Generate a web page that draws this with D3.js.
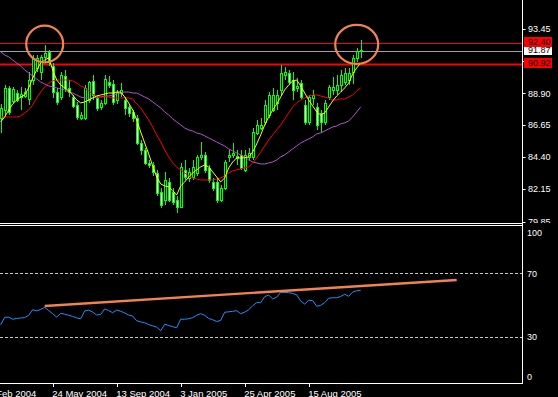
<!DOCTYPE html>
<html>
<head>
<meta charset="utf-8">
<script src="https://cdn.jsdelivr.net/npm/d3@7"></script>
<style>
  html, body { margin: 0; padding: 0; background: #000; }
  svg { display: block; }
</style>
</head>
<body>
<script>
// weekly bars, 23 Feb 2004 .. 14 Nov 2005
const firstWeek = new Date(2004, 1, 23);
const barCount = 91;

const open = [87.17,87.73,89.29,88.37,88.93,88.65,88.72,88.51,89.85,90.70,
  90.42,91.48,91.83,90.84,89.00,88.65,90.13,89.29,88.65,88.09,
  87.17,87.17,88.44,89.78,88.58,87.95,88.23,89.71,89.57,88.44,
  88.93,88.44,87.95,87.59,87.17,85.40,84.91,83.99,83.85,83.29,
  81.94,81.38,82.65,81.94,81.38,80.89,83.50,82.93,83.00,83.29,
  84.42,84.56,83.64,82.65,82.65,81.38,82.23,84.42,84.56,84.49,
  84.56,83.50,84.42,84.42,86.11,86.46,86.89,87.38,87.73,88.23,
  89.15,90.21,90.35,89.85,89.29,89.64,88.09,86.89,88.58,87.95,
  87.52,86.89,88.65,89.15,89.15,89.50,89.71,89.85,90.42,91.41,
  91.97];
const high = [88.16,89.50,89.43,89.36,89.15,89.36,89.29,90.42,91.62,91.62,
  91.62,92.32,91.97,91.05,89.29,90.42,90.56,89.85,88.79,88.30,
  87.59,89.50,89.78,90.21,88.72,88.44,90.21,90.13,89.85,89.15,
  89.64,88.65,88.09,87.73,87.38,85.62,85.05,84.20,84.06,83.50,
  82.23,83.36,82.93,82.23,81.66,83.99,84.20,83.64,84.20,84.56,
  85.47,84.77,83.85,82.93,82.93,82.44,84.20,84.91,85.40,84.91,
  84.91,84.91,85.05,86.46,87.03,87.17,88.44,89.00,89.29,89.15,
  90.91,90.77,90.56,90.42,89.99,89.85,88.44,88.79,89.15,88.23,
  87.73,88.44,89.50,90.06,90.21,90.56,90.70,90.70,91.62,92.11,
  92.68];
const low = [86.11,87.38,87.38,88.16,88.30,87.73,88.58,88.09,89.50,90.42,
  89.85,91.12,90.84,88.58,88.09,88.44,89.00,88.65,87.88,87.03,
  87.03,87.03,88.23,88.44,87.66,87.73,88.09,89.29,88.09,88.16,
  88.65,87.38,87.24,86.89,85.26,84.56,83.85,83.64,83.07,81.66,
  80.82,81.03,81.24,81.03,80.46,80.82,82.79,82.65,82.79,83.07,
  84.20,83.29,82.58,82.02,81.17,81.24,82.09,84.06,84.35,83.85,
  83.50,83.36,84.20,84.20,85.97,86.32,86.68,87.17,87.59,87.73,
  88.79,89.85,89.50,88.44,89.00,88.44,86.68,86.68,88.09,86.32,
  86.18,86.68,88.44,88.79,88.79,89.00,89.50,89.50,89.57,91.12,
  91.41];
const close = [87.88,89.29,87.59,89.22,88.44,88.86,89.00,89.85,91.41,91.41,
  91.48,91.76,91.12,89.00,88.30,90.21,89.29,89.00,88.02,87.24,
  87.38,89.29,89.71,88.79,87.88,88.23,89.92,89.50,88.30,89.00,
  89.15,87.88,87.52,87.17,85.40,84.91,83.99,83.85,83.36,81.87,
  81.03,82.79,81.38,81.24,80.89,83.71,83.00,83.36,83.71,84.42,
  84.56,83.50,82.79,82.23,81.38,82.23,84.06,84.56,84.70,84.35,
  83.64,84.56,84.70,86.18,86.68,86.68,88.09,88.79,88.79,88.79,
  90.35,90.42,89.71,89.15,89.43,88.65,86.89,88.65,88.79,86.68,
  86.89,88.23,89.36,89.36,89.50,90.21,90.35,90.35,91.41,91.90,
  91.87];

// moving averages as drawn (yellow fast, red mid, purple slow)
const maFast = [86.89,87.24,87.73,88.16,88.44,88.65,88.79,89.29,89.99,90.56,
  91.05,91.26,91.41,90.56,89.85,89.50,89.29,89.08,88.79,88.44,
  88.23,88.30,88.44,88.58,88.72,88.79,88.86,88.93,88.93,89.00,
  89.00,88.65,88.23,87.73,87.03,86.18,85.40,84.63,83.78,83.00,
  82.51,82.37,82.30,82.02,81.73,82.37,82.65,83.00,83.29,83.50,
  83.71,83.85,83.71,83.36,83.00,82.65,82.93,83.64,84.06,84.35,
  84.35,84.35,84.42,84.77,85.33,85.97,86.68,87.24,87.73,88.16,
  88.65,89.15,89.50,89.78,89.85,89.43,88.93,88.44,88.02,87.59,
  87.38,87.52,87.95,88.37,88.72,89.00,89.29,89.64,90.28,90.70,
  91.05];
const maMid = [87.24,87.24,87.24,87.24,87.24,87.31,87.52,87.73,88.09,88.58,
  89.00,89.36,89.64,89.78,89.85,89.85,89.85,89.85,89.78,89.64,
  89.43,89.29,89.08,88.86,88.72,88.65,88.65,88.65,88.58,88.58,
  88.58,88.58,88.58,88.51,88.16,87.88,87.45,87.03,86.53,85.97,
  85.47,84.91,84.42,83.99,83.71,83.50,83.29,83.07,82.93,82.86,
  82.79,82.79,82.79,82.79,82.86,82.93,83.07,83.29,83.43,83.50,
  83.57,83.64,83.71,83.99,84.35,84.77,85.19,85.62,85.97,86.32,
  86.68,87.10,87.52,87.95,88.23,88.44,88.58,88.72,88.79,88.79,
  88.72,88.65,88.58,88.44,88.44,88.51,88.51,88.65,88.79,89.08,
  89.29];
const maSlow = [91.83,91.62,91.48,91.26,91.05,90.84,90.56,90.35,90.13,89.92,
  89.71,89.57,89.43,89.36,89.29,89.22,89.15,89.00,88.93,88.79,
  88.65,88.58,88.58,88.58,88.65,88.65,88.72,88.72,88.79,88.86,
  88.93,89.00,89.00,88.93,88.93,88.79,88.65,88.51,88.30,88.09,
  87.88,87.59,87.38,87.10,86.89,86.68,86.46,86.32,86.25,86.11,
  86.04,85.90,85.76,85.62,85.47,85.33,85.19,84.98,84.84,84.70,
  84.56,84.42,84.20,84.06,83.99,83.92,83.92,83.99,84.06,84.20,
  84.42,84.56,84.77,84.98,85.19,85.40,85.55,85.69,85.83,86.04,
  86.11,86.25,86.39,86.53,86.60,86.75,86.82,86.96,87.24,87.59,
  87.95];

const rsi = [37.5,42.2,42.3,41,41.5,41.8,42,43.5,47,46.3,
  47.2,48.5,46.5,44.5,42.3,44.7,44.2,43.5,42.8,41.8,
  41.3,46.2,46.8,45.5,43.7,44,47.5,46.5,45.1,46.8,
  46,45,43.6,43,40,39.3,38.8,37.6,36.8,36,
  33.7,37.8,37,36.3,35.6,41,41,41.3,42,43.5,
  44.5,43.5,41.5,40.7,39.5,40.3,45.4,45.7,46,46.4,
  44.5,45.5,47,49.5,51.5,51.5,55.3,56.3,53.8,55,
  58,58,57.8,57.3,56.5,52.5,50.6,53,52.8,49.2,
  49.8,51.5,54.3,54.6,54.6,55.4,56.8,55.5,58.2,59,
  59.3];

const priceTicks = [93.45, 91.20, 88.90, 86.65, 84.40, 82.15, 79.85];
const rsiTicks = [100, 70, 30, 0];
const rsiLevels = [70, 30];
const dateTicks = [
  [new Date(2004, 1, 2), '2 Feb 2004'],
  [new Date(2004, 4, 24), '24 May 2004'],
  [new Date(2004, 8, 13), '13 Sep 2004'],
  [new Date(2005, 0, 3), '3 Jan 2005'],
  [new Date(2005, 3, 25), '25 Apr 2005'],
  [new Date(2005, 7, 15), '15 Aug 2005']
];

// horizontal levels: resistance, bid, support
const levels = [
  {price: 92.40, kind: 'res'},
  {price: 91.87, kind: 'bid'},
  {price: 90.92, kind: 'res'}
];
const rsiTrend = [[new Date(2004, 4, 10), 49.4], [new Date(2006, 4, 1), 65.8]];
const rings = [[new Date(2004, 4, 10), 92.39], [new Date(2005, 10, 7), 92.36]];

const dates = d3.range(barCount).map(i => d3.timeDay.offset(firstWeek, 7 * i));
const bars = dates.map((d, i) => ({d, o: open[i], h: high[i], l: low[i], c: close[i]}));

const W = 558, H = 397;
const axisX = 522.5;

const x = d3.scaleTime().domain([dates[0], dates[barCount - 1]]).range([0.7, 360.7]);
const yP = d3.scaleLinear().domain([93.45, 79.85]).range([29, 221.6]);
const yR = d3.scaleLinear().domain([0, 100]).range([384, 226]);

const svg = d3.select('body').append('svg')
  .attr('width', W).attr('height', H)
  .style('background', '#000');

const defs = svg.append('defs');
defs.append('clipPath').attr('id', 'mainClip')
  .append('rect').attr('x', 0).attr('y', 0).attr('width', axisX).attr('height', 223);
defs.append('clipPath').attr('id', 'rsiClip')
  .append('rect').attr('x', 0).attr('y', 226).attr('width', axisX).attr('height', 157);
defs.append('clipPath').attr('id', 'axisClip')
  .append('rect').attr('x', axisX).attr('y', 0).attr('width', 40).attr('height', 223);

const font = '"Liberation Sans", Arial, sans-serif';

// ---- main price window ----
const main = svg.append('g').attr('clip-path', 'url(#mainClip)');

const lvlY = d => Math.floor(yP(d.price)) + 0.5;
main.selectAll('.lvl').data(levels).enter().append('line')
  .attr('x1', 0).attr('x2', axisX)
  .attr('y1', lvlY).attr('y2', lvlY)
  .attr('stroke', d => d.kind === 'bid' ? '#9aa4b0' : '#ff0000')
  .attr('stroke-width', (d, i) => i === 2 ? 2 : 1);

const cx = d => Math.round(x(d.d)) + 0.5;

main.selectAll('.wick').data(bars).enter().append('line')
  .attr('x1', cx).attr('x2', cx)
  .attr('y1', d => Math.round(yP(d.h))).attr('y2', d => Math.round(yP(d.l)))
  .attr('stroke', '#00ff00').attr('stroke-width', 1);

main.selectAll('.body').data(bars).enter().append('rect')
  .attr('x', d => cx(d) - 1)
  .attr('width', 2)
  .attr('y', d => Math.round(yP(Math.max(d.o, d.c))) + 0.5)
  .attr('height', d => Math.max(1, Math.round(Math.abs(yP(d.o) - yP(d.c)))))
  .attr('fill', d => d.c >= d.o ? '#000' : '#fff')
  .attr('stroke', '#00ff00').attr('stroke-width', 1);

const maLine = vals => d3.line()
  .x((v, i) => x(dates[i]))
  .y(v => yP(v))(vals);

[[maSlow, '#b552d6'], [maMid, '#ff0000'], [maFast, '#ffff00']].forEach(([vals, col]) => {
  main.append('path').attr('d', maLine(vals))
    .attr('fill', 'none').attr('stroke', col).attr('stroke-width', 1);
});

main.selectAll('.ring').data(rings).enter().append('ellipse')
  .attr('cx', d => x(d[0]))
  .attr('cy', d => yP(d[1]))
  .attr('rx', (d, i) => i === 0 ? 18.5 : 21.5)
  .attr('ry', (d, i) => i === 0 ? 18.3 : 19.5)
  .attr('fill', 'none').attr('stroke', '#f2834c').attr('stroke-width', 2.2);

// ---- RSI window ----
const sub = svg.append('g').attr('clip-path', 'url(#rsiClip)');

sub.selectAll('.lv').data(rsiLevels).enter().append('line')
  .attr('x1', 0).attr('x2', axisX)
  .attr('y1', d => Math.round(yR(d)) + 0.5).attr('y2', d => Math.round(yR(d)) + 0.5)
  .attr('stroke', '#c8c8c8').attr('stroke-dasharray', '3,2');

sub.append('path')
  .attr('d', d3.line().x((v, i) => x(dates[i])).y(v => yR(v))(rsi))
  .attr('fill', 'none').attr('stroke', '#1e90ff').attr('stroke-width', 1);

sub.append('line')
  .attr('x1', x(rsiTrend[0][0])).attr('y1', yR(rsiTrend[0][1]))
  .attr('x2', x(rsiTrend[1][0])).attr('y2', yR(rsiTrend[1][1]))
  .attr('stroke', '#f2834c').attr('stroke-width', 2.4);

// ---- frames ----
const frame = svg.append('g').attr('stroke', '#fff').attr('stroke-width', 1);
frame.append('line').attr('x1', 0).attr('x2', axisX).attr('y1', 223.5).attr('y2', 223.5);
frame.append('line').attr('x1', 0).attr('x2', axisX).attr('y1', 225.5).attr('y2', 225.5);
frame.append('line').attr('x1', 0).attr('x2', axisX).attr('y1', 383.5).attr('y2', 383.5);
frame.append('line').attr('x1', axisX).attr('x2', axisX).attr('y1', 0).attr('y2', 384);

// ---- price axis ----
const pAxis = svg.append('g').attr('clip-path', 'url(#axisClip)');
pAxis.selectAll('.pt').data(priceTicks).enter().append('line')
  .attr('x1', axisX).attr('x2', axisX + 3)
  .attr('y1', d => Math.round(yP(d)) + 0.5).attr('y2', d => Math.round(yP(d)) + 0.5)
  .attr('stroke', '#fff');
pAxis.selectAll('.pl').data(priceTicks).enter().append('text')
  .attr('x', 528).attr('y', d => yP(d))
  .attr('dy', '0.35em')
  .attr('fill', '#fff').attr('font-family', font).attr('font-size', '9px')
  .text(d => d.toFixed(2));

// level tags on the axis, bid first so the red ones sit on top
const tagOrder = [levels[1], levels[0], levels[2]];
const tags = svg.selectAll('.tag').data(tagOrder).enter().append('g');
tags.append('rect')
  .attr('x', 524).attr('width', 28)
  .attr('y', d => Math.floor(yP(d.price)) - 6).attr('height', 10)
  .attr('fill', d => d.kind === 'bid' ? '#fff' : '#ff0000');
tags.append('text')
  .attr('x', 528).attr('y', d => Math.floor(yP(d.price)) - 1)
  .attr('dy', '0.35em')
  .attr('fill', '#000').attr('font-family', font).attr('font-size', '9px')
  .text(d => d.price.toFixed(2));

// ---- RSI axis ----
svg.selectAll('.rl').data(rsiTicks).enter().append('text')
  .attr('x', 527)
  .attr('y', d => Math.min(377, Math.max(233, yR(d))))
  .attr('dy', '0.35em')
  .attr('fill', '#fff').attr('font-family', font).attr('font-size', '9px')
  .text(d => d);

// ---- time axis ----
svg.selectAll('.dt').data(dateTicks).enter().append('line')
  .attr('x1', d => Math.round(x(d[0])) + 0.5).attr('x2', d => Math.round(x(d[0])) + 0.5)
  .attr('y1', 384).attr('y2', 387)
  .attr('stroke', '#fff');
svg.selectAll('.dl').data(dateTicks).enter().append('text')
  .attr('x', d => x(d[0]) - 0.5).attr('y', 396.5)
  .attr('fill', '#fff').attr('font-family', font).attr('font-size', '9.5px')
  .text(d => d[1]);
</script>
</body>
</html>
